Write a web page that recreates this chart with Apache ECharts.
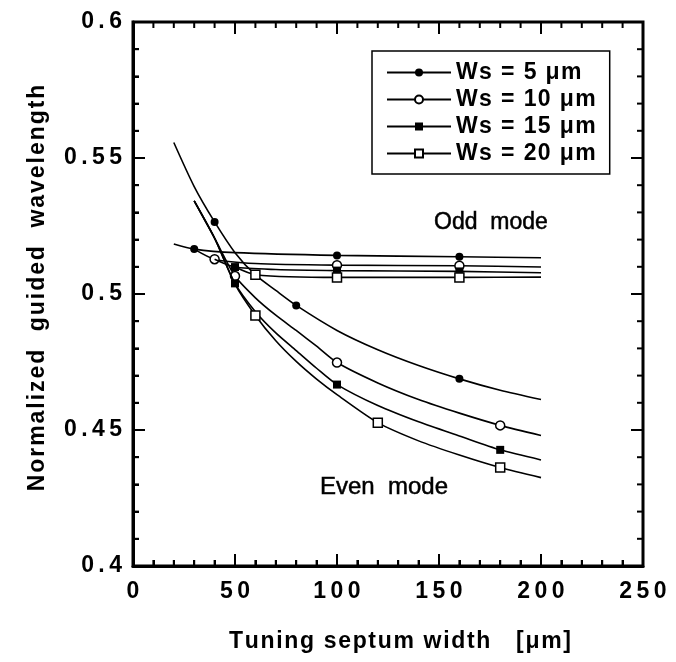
<!DOCTYPE html>
<html><head><meta charset="utf-8">
<script src="https://cdn.jsdelivr.net/npm/echarts@6/dist/echarts.min.js"></script>
<style>html,body{margin:0;padding:0;background:#fff}#c{width:676px;height:662px}</style>
</head><body><div id="c"></div>
<script>
// ---- Data ----
const seriesNames = ['Ws = 5 μm', 'Ws = 10 μm', 'Ws = 15 μm', 'Ws = 20 μm'];

// Even mode curves
const evenX5  = [20, 30, 40, 50, 60, 70, 80, 100, 120, 140, 160, 180, 200];
const evenY5  = [0.5557, 0.5395, 0.5265, 0.5152, 0.5070, 0.5013, 0.4958, 0.4866, 0.4795, 0.4737, 0.4688, 0.4646, 0.4612];
const evenMk5 = [40, 80, 160];

const evenX10  = [30, 40, 50, 60, 70, 80, 90, 100, 120, 140, 160, 180, 200];
const evenY10  = [0.5342, 0.5205, 0.5066, 0.4986, 0.4922, 0.4866, 0.4808, 0.4748, 0.4673, 0.4612, 0.4562, 0.4517, 0.4480];
const evenMk10 = [50, 100, 180];

const evenX15  = [30, 40, 50, 60, 70, 80, 90, 100, 120, 140, 160, 180, 200];
const evenY15  = [0.5342, 0.5205, 0.5039, 0.4935, 0.4857, 0.4792, 0.4727, 0.4667, 0.4590, 0.4530, 0.4478, 0.4427, 0.4390];
const evenMk15 = [50, 100, 180];

const evenX20  = [30, 40, 50, 60, 70, 80, 90, 100, 120, 140, 160, 180, 200];
const evenY20  = [0.5342, 0.5205, 0.5036, 0.4921, 0.4828, 0.4752, 0.4687, 0.4630, 0.4527, 0.4460, 0.4408, 0.4362, 0.4325];
const evenMk20 = [60, 120, 180];

// Odd mode curves
const oddX5  = [20, 30, 50, 100, 160, 200];
const oddY5  = [0.5184, 0.5165, 0.5152, 0.5142, 0.5137, 0.5133];
const oddMk5 = [30, 100, 160];

const oddX10  = [30, 40, 60, 100, 160, 200];
const oddY10  = [0.5165, 0.5128, 0.5112, 0.5106, 0.5104, 0.5099];
const oddMk10 = [40, 100, 160];

const oddX15  = [40, 50, 70, 100, 160, 200];
const oddY15  = [0.5128, 0.5099, 0.5090, 0.5086, 0.5083, 0.5078];
const oddMk15 = [50, 100, 160];

const oddX20  = [50, 60, 100, 160, 200];
const oddY20  = [0.5099, 0.5071, 0.5061, 0.5061, 0.5062];
const oddMk20 = [60, 100, 160];

// Tick positions (axis values)
const xMajorTicks = [0, 50, 100, 150, 200, 250];
const xMinorTicks = [10, 20, 30, 40, 60, 70, 80, 90, 110, 120, 130, 140, 160, 170, 180, 190, 210, 220, 230, 240];
const yMajorTicks = [0.4, 0.45, 0.5, 0.55, 0.6];
const yMinorTicks = [0.41, 0.42, 0.43, 0.44, 0.46, 0.47, 0.48, 0.49, 0.51, 0.52, 0.53, 0.54, 0.56, 0.57, 0.58, 0.59];

const xTitle = 'Tuning septum width   [μm]';
const yTitle = 'Normalized  guided  wavelength';
const oddLabel = 'Odd  mode';
const evenLabel = 'Even  mode';

// ---- Chart ----
const X_MIN = 0, X_MAX = 250, Y_MIN = 0.4, Y_MAX = 0.6;
const FONT = '"Liberation Sans", Arial, Helvetica, sans-serif';
function spaced(str, key) { return String(str).split('').join('{' + key + '| }'); }

function pts(xs, ys, mks) {
  return xs.map((x, i) => mks.indexOf(x) >= 0 ? { value: [x, ys[i]] } : { value: [x, ys[i]], symbol: 'none' });
}
const styles = [
  { symbol: 'circle', size: 8, item: { color: '#000', borderColor: '#000', borderWidth: 0 } },
  { symbol: 'circle', size: 9, item: { color: '#fff', borderColor: '#000', borderWidth: 1.5 } },
  { symbol: 'rect', size: 8, item: { color: '#000', borderColor: '#000', borderWidth: 0 } },
  { symbol: 'rect', size: 9, item: { color: '#fff', borderColor: '#000', borderWidth: 1.5 } }
];
function ser(idx, data) {
  const s = styles[idx];
  return {
    type: 'line', name: seriesNames[idx], data: data,
    symbol: s.symbol, symbolSize: s.size, smooth: 0.25,
    lineStyle: { color: '#000', width: 1.6 }, itemStyle: s.item,
    emphasis: { disabled: true }, silent: true, z: 3 + idx
  };
}
const series = [
  ser(0, pts(oddX5, oddY5, oddMk5)),
  ser(1, pts(oddX10, oddY10, oddMk10)),
  ser(2, pts(oddX15, oddY15, oddMk15)),
  ser(3, pts(oddX20, oddY20, oddMk20)),
  ser(0, pts(evenX5, evenY5, evenMk5)),
  ser(1, pts(evenX10, evenY10, evenMk10)),
  ser(2, pts(evenX15, evenY15, evenMk15)),
  ser(3, pts(evenX20, evenY20, evenMk20))
];

// Inward ticks on all four sides, placed through the chart's own scales
const tickData = []
  .concat(xMajorTicks.map(v => [v, 0, 12]))
  .concat(xMinorTicks.map(v => [v, 0, 6]))
  .concat(yMajorTicks.map(v => [v, 1, 12]))
  .concat(yMinorTicks.map(v => [v, 1, 6]));
series.push({
  type: 'custom', silent: true, clip: false, z: 2, data: tickData,
  dimensions: ['v', 'kind', 'len'], encode: { x: 0, y: 1 },
  renderItem: function (params, api) {
    const v = api.value(0), kind = api.value(1), len = api.value(2);
    const st = { stroke: '#000', lineWidth: 2 };
    if (kind === 0) {
      const b = api.coord([v, Y_MIN]), t = api.coord([v, Y_MAX]);
      return { type: 'group', children: [
        { type: 'line', shape: { x1: b[0], y1: b[1], x2: b[0], y2: b[1] - len }, style: st },
        { type: 'line', shape: { x1: t[0], y1: t[1], x2: t[0], y2: t[1] + len }, style: st }
      ] };
    }
    const l = api.coord([X_MIN, v]), r = api.coord([X_MAX, v]);
    return { type: 'group', children: [
      { type: 'line', shape: { x1: l[0], y1: l[1], x2: l[0] + len, y2: l[1] }, style: st },
      { type: 'line', shape: { x1: r[0], y1: r[1], x2: r[0] - len, y2: r[1] }, style: st }
    ] };
  }
});

const labelSt = (margin, fmt) => ({ show: true, margin: margin, formatter: fmt, fontSize: 23, fontWeight: 'bold', color: '#000', fontFamily: FONT, rich: { s: { fontSize: 16 } } });

const option = {
  animation: false,
  grid: { left: 133, top: 22, width: 510, height: 544, show: true, borderColor: '#000', borderWidth: 3, backgroundColor: 'transparent' },
  xAxis: {
    type: 'value', min: X_MIN, max: X_MAX, interval: 50,
    axisLine: { show: true, onZero: false, lineStyle: { color: '#000', width: 3 } },
    axisTick: { show: true, inside: true, length: 12, lineStyle: { color: '#000', width: 2 } },
    minorTick: { show: true, splitNumber: 5, length: 6, lineStyle: { color: '#000', width: 2 } },
    splitLine: { show: false },
    axisLabel: labelSt(14, v => spaced(v, 's')),
    name: spaced(xTitle, 't'), nameLocation: 'middle', nameGap: 64,
    nameTextStyle: { fontSize: 23, fontWeight: 'bold', color: '#000', fontFamily: FONT, padding: [0, 0, 0, 24], rich: { t: { fontSize: 6 } } }
  },
  yAxis: {
    type: 'value', min: Y_MIN, max: Y_MAX, interval: 0.05,
    axisLine: { show: true, onZero: false, lineStyle: { color: '#000', width: 3 } },
    axisTick: { show: true, inside: true, length: 12, lineStyle: { color: '#000', width: 2 } },
    minorTick: { show: true, splitNumber: 5, length: 6, lineStyle: { color: '#000', width: 2 } },
    splitLine: { show: false },
    axisLabel: labelSt(11, v => spaced(Math.round(v * 100) / 100, 's')),
    name: spaced(yTitle, 't'), nameLocation: 'middle', nameGap: 84,
    nameTextStyle: { fontSize: 23, fontWeight: 'bold', color: '#000', fontFamily: FONT, verticalAlign: 'bottom', padding: [0, 0, 0, 12], rich: { t: { fontSize: 7 } } }
  },
  legend: {
    left: 372, top: 51, orient: 'vertical', data: seriesNames,
    itemWidth: 64, itemHeight: 10, itemGap: 0, padding: [8, 14, 7, 14],
    borderColor: '#000', borderWidth: 1.5, borderRadius: 0, backgroundColor: '#fff',
    selectedMode: false,
    formatter: name => spaced(name, 's'),
    textStyle: { fontSize: 23, fontWeight: 'bold', color: '#000', fontFamily: FONT, lineHeight: 27, rich: { s: { fontSize: 5, lineHeight: 27 } } }
  },
  graphic: [
    { type: 'text', x: 491, y: 223, silent: true,
      style: { text: oddLabel, fill: '#000', stroke: '#000', lineWidth: 0.5, font: '23px ' + FONT, align: 'center', verticalAlign: 'middle' } },
    { type: 'text', x: 384, y: 487, silent: true,
      style: { text: evenLabel, fill: '#000', stroke: '#000', lineWidth: 0.5, font: '24px ' + FONT, align: 'center', verticalAlign: 'middle' } }
  ],
  series: series
};
const chart = echarts.init(document.getElementById('c'));
chart.setOption(option);
</script>
</body></html>
